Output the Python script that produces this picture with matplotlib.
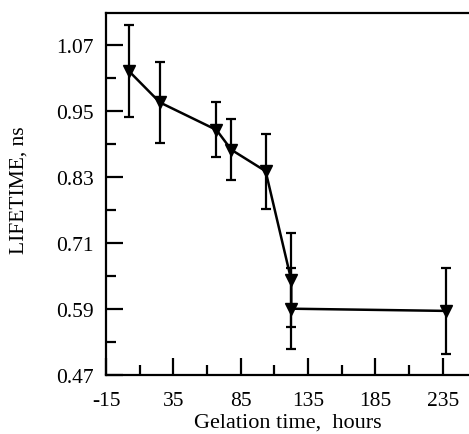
import matplotlib
matplotlib.use("Agg")
import matplotlib.pyplot as plt
from matplotlib.ticker import FixedLocator

hours = [2, 25, 67, 78, 103.5, 122.5, 122.5, 237]
lifetime = [1.022, 0.965, 0.915, 0.879, 0.840, 0.642, 0.590, 0.586]
err = [0.084, 0.074, 0.050, 0.055, 0.068, 0.086, 0.074, 0.078]

x_ticks = [-15, 35, 85, 135, 185, 235]
y_ticks = [0.47, 0.59, 0.71, 0.83, 0.95, 1.07]

plt.rcParams['font.family'] = ['Liberation Serif', 'DejaVu Serif']

fig = plt.figure(figsize=(4.69, 4.35), dpi=100)
ax = fig.add_axes([106/469, 1 - 375.7/435, (468-106)/469, (375.7-13.5)/435])

ax.errorbar(hours, lifetime, yerr=err, color='black', lw=1.8, marker='v',
            ms=8, capsize=3.3, capthick=1.6, elinewidth=1.6)

ax.set_xlim(-15, 253.7)
ax.set_ylim(0.47, 1.1285)
ax.xaxis.set_major_locator(FixedLocator(x_ticks))
ax.xaxis.set_minor_locator(FixedLocator([10, 60, 110, 160, 210]))
ax.yaxis.set_major_locator(FixedLocator(y_ticks))
ax.yaxis.set_minor_locator(FixedLocator([0.53, 0.65, 0.77, 0.89, 1.01]))
ax.set_xticklabels([str(t) for t in x_ticks])
ax.set_yticklabels([f"{t:.2f}" for t in y_ticks])

ax.tick_params(axis='both', which='major', direction='in', length=12, width=1.6,
               labelsize=15.5)
ax.tick_params(axis='x', which='major', pad=12)
ax.tick_params(axis='y', which='major', pad=9)
ax.tick_params(axis='both', which='minor', direction='in', length=7, width=1.6)
ax.tick_params(axis='x', which='both', top=False)
ax.tick_params(axis='y', which='both', right=False)

for s in ['left', 'bottom', 'top']:
    ax.spines[s].set_linewidth(1.6)
ax.spines['right'].set_visible(False)

ax.set_xlabel('Gelation time,  hours', fontsize=16, va='top')
ax.xaxis.set_label_coords(0.5036, -(414.0 - 375.7) / 362.2)
ax.set_ylabel('LIFETIME, ns', fontsize=15.5)
ax.yaxis.set_label_coords((29 - 106) / 362.0, (375.7 - 190) / 362.2)

fig.savefig('out.png', dpi=100)
